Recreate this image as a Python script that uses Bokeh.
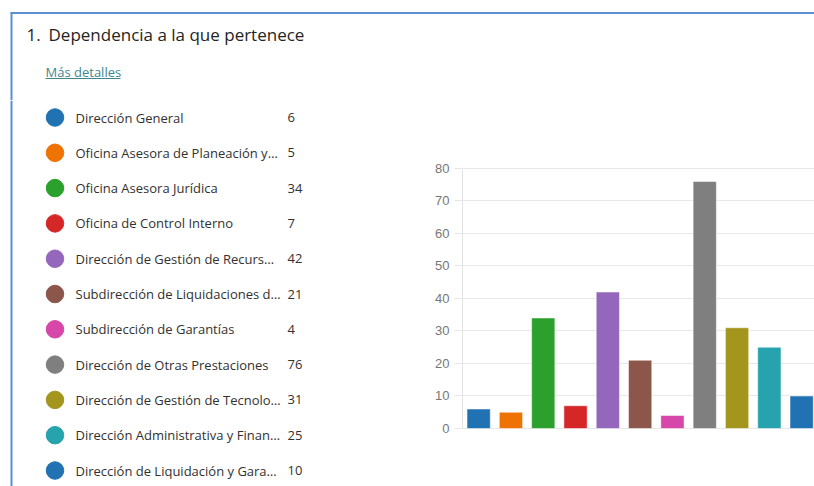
from bokeh.plotting import figure
from bokeh.models import Range1d, FixedTicker, ColumnDataSource, Span
from bokeh.layouts import column, row
from bokeh.core.properties import value
from bokeh.embed import file_html
from bokeh.resources import INLINE

# ---- data ----
title_num = "1."
title_text = "Dependencia a la que pertenece"
link_text = "Más detalles"
labels = [
    "Dirección General",
    "Oficina Asesora de Planeación y…",
    "Oficina Asesora Jurídica",
    "Oficina de Control Interno",
    "Dirección de Gestión de Recurs…",
    "Subdirección de Liquidaciones d…",
    "Subdirección de Garantías",
    "Dirección de Otras Prestaciones",
    "Dirección de Gestión de Tecnolo…",
    "Dirección Administrativa y Finan…",
    "Dirección de Liquidación y Gara…",
]
counts = [6, 5, 34, 7, 42, 21, 4, 76, 31, 25, 10]
colors = ["#2072b3", "#ef7303", "#2ca02c", "#d62728", "#9467bd", "#8c564b",
          "#d647a9", "#7f7f7f", "#a4951d", "#27a3ae", "#2072b3"]
y_ticks = [0, 10, 20, 30, 40, 50, 60, 70, 80]

FONT = "Open Sans"
TEXT = "#323130"
BORDER = "#5b90d5"
LINK = "#3f8790"

n = len(labels)
src = ColumnDataSource(dict(
    idx=list(range(n)),
    label=labels,
    count=counts,
    count_txt=[str(c) for c in counts],
    color=colors,
))


def blank(w, h, xr, yr):
    p = figure(width=w, height=h, x_range=xr, y_range=yr,
               output_backend="svg", toolbar_location=None,
               x_axis_location=None, y_axis_location=None, min_border=0)
    p.grid.visible = False
    p.outline_line_color = None
    p.background_fill_color = "white"
    p.border_fill_color = "white"
    return p


# ---- header strip ----
header = blank(814, 100, Range1d(0, 814), Range1d(100, 0))
header.segment(x0=[10], y0=[12.5], x1=[814], y1=[12.5], line_color=BORDER, line_width=2)
header.segment(x0=[11], y0=[12], x1=[11], y1=[100], line_color=BORDER, line_width=2)
header.text(x=[26], y=[34], text=[title_num], text_font=value(FONT),
            text_font_size="17px", text_baseline="middle", text_color="#252423")
header.text(x=[48], y=[34], text=[title_text], text_font=value(FONT),
            text_font_size="17px", text_baseline="middle", text_color="#252423")
header.text(x=[45], y=[71], text=[link_text], text_font=value(FONT),
            text_font_size="13px", text_baseline="middle", text_color=LINK)
header.segment(x0=[45], y0=[78], x1=[120], y1=[78], line_color=LINK, line_width=1)

# ---- legend list ----
leg = blank(408, 386, Range1d(0, 408), Range1d(10.453, -0.4816))
leg.add_layout(Span(location=11, dimension="height", line_color=BORDER, line_width=2))
leg.scatter(x=54.5, y="idx", source=src, size=17.5, marker="circle",
            fill_color="color", line_color="color")
leg.text(x=75, y="idx", text="label", source=src, text_font=value(FONT),
         text_font_size="13px", text_baseline="middle", text_color=TEXT)
leg.text(x=287, y="idx", text="count_txt", source=src, text_font=value(FONT),
         text_font_size="13px", text_baseline="middle", text_color=TEXT)

# ---- bar chart ----
bar = figure(width=406, height=386, x_range=Range1d(-0.5, 10.398),
             y_range=Range1d(-17.846, 100.92), output_backend="svg",
             toolbar_location=None, x_axis_location=None,
             min_border_left=54, min_border_right=0, min_border_top=0,
             min_border_bottom=0)
bar.outline_line_color = None
bar.xgrid.visible = False
bar.vbar(x="idx", top="count", bottom=0, width=0.72, source=src,
         fill_color="color", line_color="white", line_alpha=0.5, line_width=1)
ticker = FixedTicker(ticks=y_ticks)
bar.yaxis.ticker = ticker
bar.ygrid.ticker = ticker
bar.yaxis.bounds = (0, 80)
bar.yaxis.axis_line_color = "#e3e3e3"
bar.yaxis.major_tick_line_color = "#e6e6e6"
bar.yaxis.major_tick_out = 8
bar.yaxis.major_tick_in = 0
bar.yaxis.minor_tick_line_color = None
bar.yaxis.major_label_standoff = 5
bar.yaxis.major_label_text_color = "#777777"
bar.yaxis.major_label_text_font = "Liberation Sans"
bar.yaxis.major_label_text_font_size = "13px"
bar.ygrid.grid_line_color = "#e8e8e8"

layout = column(header, row(leg, bar))
open("out.html", "w").write(file_html(layout, INLINE))
